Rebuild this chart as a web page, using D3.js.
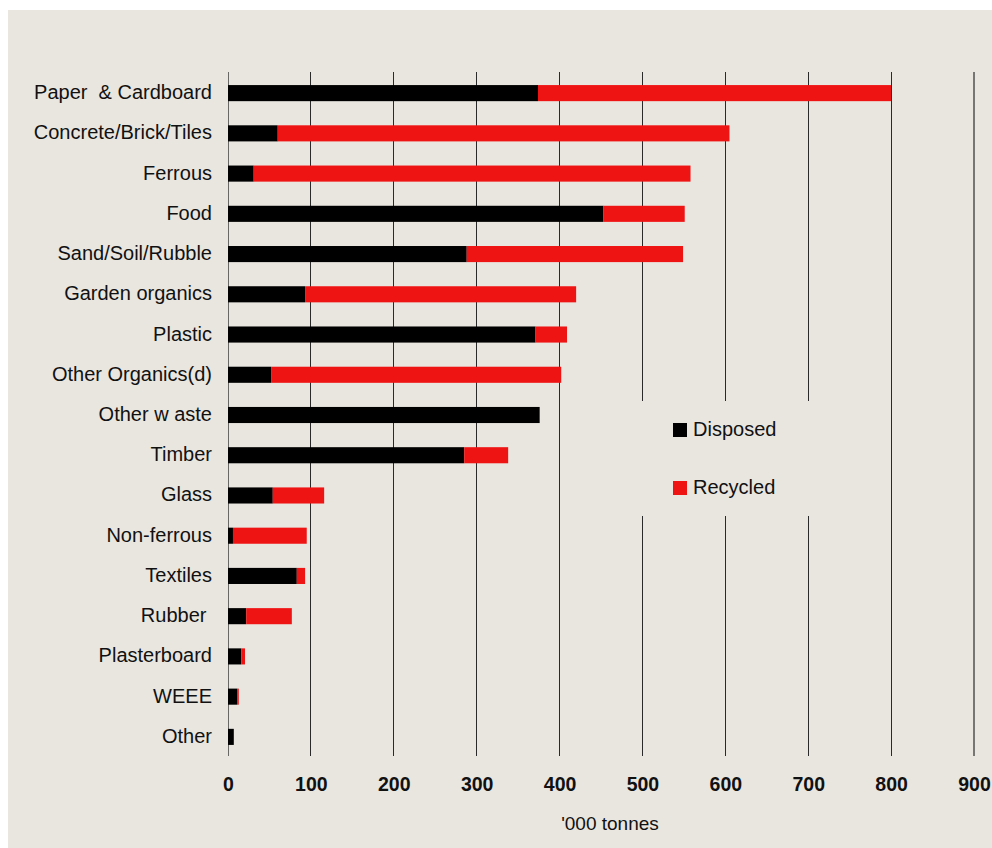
<!DOCTYPE html>
<html>
<head>
<meta charset="utf-8">
<script src="https://cdn.jsdelivr.net/npm/d3@7/dist/d3.min.js"></script>
<style>
  html, body { margin: 0; padding: 0; background: #ffffff; }
  svg { display: block; }
  text { font-family: "Liberation Sans", Arial, sans-serif; fill: #111; }
</style>
</head>
<body>
<svg id="chart" width="992" height="848"></svg>
<script>
// Waste streams, in '000 tonnes
const categories = [
  "Paper  & Cardboard", "Concrete/Brick/Tiles", "Ferrous", "Food",
  "Sand/Soil/Rubble", "Garden organics", "Plastic", "Other Organics(d)",
  "Other w aste", "Timber", "Glass", "Non-ferrous", "Textiles", "Rubber ",
  "Plasterboard", "WEEE", "Other"
];
const disposed = [374, 60, 31, 453, 288, 93, 371, 52, 376, 285, 54, 6, 83, 22, 16, 11, 7];
const recycled = [426, 545, 527, 98, 261, 327, 38, 350, 0, 53, 62, 89, 10, 55, 4.5, 2, 0];
const seriesNames = ["Disposed", "Recycled"];
const xTicks = [0, 100, 200, 300, 400, 500, 600, 700, 800, 900];
const axisTitle = "'000 tonnes";

const colors = { Disposed: "#000000", Recycled: "#ef1414" };
const bg = "#e9e6e0";

const svg = d3.select("#chart");

// panel background
svg.append("rect").attr("x", 8).attr("y", 10).attr("width", 984).attr("height", 838).attr("fill", bg);

const x = d3.scaleLinear().domain([0, 900]).range([228, 974]);
const y = d3.scaleBand().domain(categories).range([73, 757]).paddingInner(0.6).paddingOuter(0.3);

// vertical gridlines
const grid = svg.append("g");
grid.selectAll("line").data(xTicks).join("line")
  .attr("x1", d => x(d)).attr("x2", d => x(d))
  .attr("y1", 72).attr("y2", 756)
  .attr("stroke", d => d === 900 ? "#787672" : (d === 0 ? "#6a6864" : "#2a2a2a"))
  .attr("stroke-width", d => d === 900 ? 1.6 : 1)
  .attr("shape-rendering", "crispEdges");

// stacked bars
const rows = categories.map((c, i) => ({ cat: c, Disposed: disposed[i], Recycled: recycled[i] }));
const stacked = d3.stack().keys(seriesNames)(rows);
svg.append("g").selectAll("g").data(stacked).join("g")
  .attr("fill", s => colors[s.key])
  .selectAll("rect").data(s => s).join("rect")
  .attr("x", d => x(d[0]))
  .attr("width", d => Math.max(0, x(d[1]) - x(d[0])))
  .attr("y", d => y(d.data.cat))
  .attr("height", y.bandwidth());

// category labels
svg.append("g").selectAll("text").data(categories).join("text")
  .attr("x", 212)
  .attr("y", d => y(d) + y.bandwidth() / 2 - 1)
  .attr("dy", "0.35em")
  .attr("text-anchor", "end")
  .attr("font-size", 20)
  .style("white-space", "pre")
  .attr("xml:space", "preserve")
  .text(d => d);

// x axis labels
const axis = svg.append("g").attr("transform", "translate(0,777)")
  .call(d3.axisBottom(x).tickValues(xTicks).tickSize(0).tickPadding(0).tickFormat(d3.format("d")));
axis.select(".domain").remove();
axis.selectAll("text")
  .attr("font-size", 19.5)
  .attr("font-weight", "bold")
  .attr("font-family", "'Liberation Sans', Arial, sans-serif")
  .attr("fill", "#111")
  .attr("dy", "0.71em");

svg.append("text")
  .attr("x", 610).attr("y", 830)
  .attr("text-anchor", "middle")
  .attr("font-size", 19)
  .text(axisTitle);

// legend panel sits over the gridlines
const legend = svg.append("g");
legend.append("rect").attr("x", 622).attr("y", 401).attr("width", 222).attr("height", 115).attr("fill", bg);
const legY = [430, 488];
seriesNames.forEach((s, i) => {
  legend.append("rect").attr("x", 673).attr("y", legY[i] - 7).attr("width", 14).attr("height", 14).attr("fill", colors[s]);
  legend.append("text").attr("x", 693).attr("y", legY[i] - 1).attr("dy", "0.35em")
    .attr("font-size", 20).text(s);
});
</script>
</body>
</html>
